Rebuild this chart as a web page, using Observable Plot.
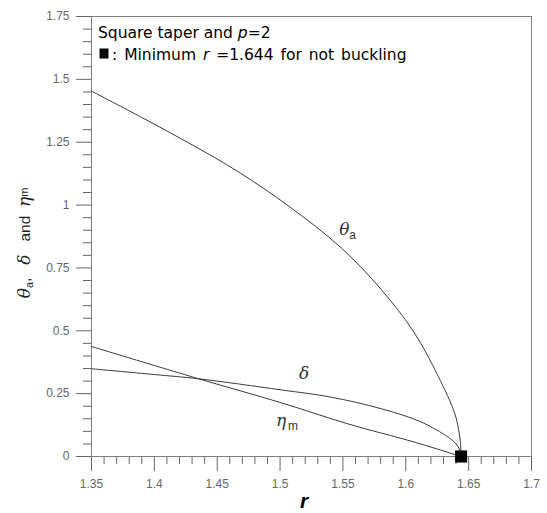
<!DOCTYPE html>
<html><head><meta charset="utf-8">
<script src="https://cdn.jsdelivr.net/npm/d3@7"></script>
<script src="https://cdn.jsdelivr.net/npm/@observablehq/plot@0.6"></script>
<style>
html,body{margin:0;padding:0;background:#fff;}
#chart{width:547px;height:513px;}
</style></head><body><div id="chart"></div>
<script>
// theta_a curve
const rTheta = [1.35, 1.3875, 1.4274, 1.4672, 1.5071, 1.5486, 1.5805, 1.6068, 1.6259, 1.6387, 1.6420, 1.6435, 1.644];
const theta  = [1.453, 1.355, 1.247, 1.131, 0.995, 0.830, 0.664, 0.492, 0.318, 0.175, 0.108, 0.055, 0];
// delta curve
const rDelta = [1.35, 1.40, 1.4353, 1.5007, 1.5406, 1.5805, 1.6124, 1.6337, 1.6400, 1.6430, 1.644];
const delta  = [0.349, 0.326, 0.309, 0.265, 0.236, 0.190, 0.137, 0.077, 0.050, 0.025, 0];
// eta_m curve
const rEta = [1.35, 1.4353, 1.5007, 1.5539, 1.607, 1.644];
const eta  = [0.4376, 0.309, 0.214, 0.130, 0.057, 0];
// minimum r
const rMin = [1.644];
const vMin = [0];
// ticks
const xTicks = [1.35, 1.4, 1.45, 1.5, 1.55, 1.6, 1.65, 1.7];
const xTickLabels = ["1.35", "1.4", "1.45", "1.5", "1.55", "1.6", "1.65", "1.7"];
const yTicks = [0, 0.25, 0.5, 0.75, 1, 1.25, 1.5, 1.75];
const yTickLabels = ["0", "0.25", "0.5", "0.75", "1", "1.25", "1.5", "1.75"];
// curve labels
const curveLabels = ["θ", "δ", "η"];
const curveLabelX = [1.547, 1.515, 1.4967];
const curveLabelY = [0.879, 0.310, 0.123];
const subLabels = ["a", "m"];
const subLabelX = [1.555, 1.5063];
const subLabelY = [0.867, 0.107];

const xMinor = d3.range(0, 36).map(i => +(1.35 + i * 0.01).toFixed(2)).filter(v => !xTicks.some(t => Math.abs(t - v) < 1e-9));
const yMinor = d3.range(0, 36).map(i => +(i * 0.05).toFixed(2)).filter(v => !yTicks.some(t => Math.abs(t - v) < 1e-9));

const toRows = (xs, ys) => xs.map((x, i) => ({x, y: ys[i]}));
const gray = "#666";
const lineColor = "#3a3a3a";

const plot = Plot.plot({
  width: 547,
  height: 513,
  marginLeft: 91,
  marginRight: 16,
  marginTop: 16,
  marginBottom: 57,
  style: {background: "#fff", fontFamily: "'Liberation Sans', Arial, sans-serif"},
  x: {domain: [1.35, 1.7]},
  y: {domain: [0, 1.75]},
  marks: [
    Plot.axisX({ticks: xMinor, tickSize: 8, tickFormat: () => "", label: null, color: gray}),
    Plot.axisY({ticks: yMinor, tickSize: 8, tickFormat: () => "", label: null, color: gray}),
    Plot.axisX({ticks: xTicks, tickSize: 15, tickPadding: 8, tickFormat: d => xTickLabels[xTicks.findIndex(t => Math.abs(t - d) < 1e-9)], label: null, fontSize: 12, color: gray}),
    Plot.axisY({ticks: yTicks, tickSize: 15, tickPadding: 7, tickFormat: d => yTickLabels[yTicks.findIndex(t => Math.abs(t - d) < 1e-9)], label: null, fontSize: 12, color: gray}),
    Plot.frame({stroke: "#808080", strokeWidth: 1}),
    Plot.line(toRows(rTheta, theta), {x: "x", y: "y", stroke: lineColor, strokeWidth: 1, curve: "catmull-rom"}),
    Plot.line(toRows(rDelta, delta), {x: "x", y: "y", stroke: lineColor, strokeWidth: 1, curve: "catmull-rom"}),
    Plot.line(toRows(rEta, eta), {x: "x", y: "y", stroke: lineColor, strokeWidth: 1, curve: "catmull-rom"}),
    Plot.dot(toRows(rMin, vMin), {x: "x", y: "y", symbol: "square", r: 6.8, fill: "#000", stroke: "none"}),
    Plot.text(curveLabels.map((t, i) => ({t, x: curveLabelX[i], y: curveLabelY[i]})), {x: "x", y: "y", text: "t", textAnchor: "start", lineAnchor: "bottom", fontSize: 17, fontStyle: "italic", fontFamily: "'DejaVu Serif', serif", fill: "#333"}),
    Plot.text(subLabels.map((t, i) => ({t, x: subLabelX[i], y: subLabelY[i]})), {x: "x", y: "y", text: "t", textAnchor: "start", lineAnchor: "bottom", fontSize: 12, fontFamily: "'Liberation Sans', Arial, sans-serif", fill: "#333"})
  ]
});

const svg = d3.select(plot);
// x-axis label
svg.append("text").attr("x", 304).attr("y", 508).attr("text-anchor", "middle")
  .style("font-family", "'Liberation Sans', Arial, sans-serif").style("font-size", "21px")
  .style("font-weight", "bold").style("font-style", "italic").attr("fill", "#000").text("r");
// y-axis label
const yl = svg.append("text").attr("transform", "translate(30,243) rotate(-90)").attr("text-anchor", "middle")
  .style("font-family", "'Liberation Sans', Arial, sans-serif").style("font-size", "15.5px").attr("fill", "#222");
yl.append("tspan").style("font-family", "'DejaVu Serif', serif").style("font-style", "italic").style("font-size", "17px").text("θ");
yl.append("tspan").attr("dy", 3).style("font-size", "11px").text("a");
yl.append("tspan").attr("dy", -3).text(",   ");
yl.append("tspan").style("font-family", "'DejaVu Serif', serif").style("font-style", "italic").style("font-size", "17px").text("δ");
yl.append("tspan").text("   and  ");
yl.append("tspan").style("font-family", "'DejaVu Serif', serif").style("font-style", "italic").style("font-size", "17px").text("η");
yl.append("tspan").attr("dy", -2).style("font-size", "11px").text("m");
// legend
const lg = svg.append("g").attr("text-anchor", "start").style("font-family", "'DejaVu Sans', sans-serif").style("font-size", "15.5px").attr("fill", "#000");
const l1 = lg.append("text").attr("text-anchor", "start").attr("x", 98).attr("y", 37.5);
l1.append("tspan").text("Square taper and ");
l1.append("tspan").style("font-style", "italic").text("p");
l1.append("tspan").text("=2");
lg.append("rect").attr("x", 99.5).attr("y", 48.5).attr("width", 9).attr("height", 10).attr("fill", "#000");
const l2 = lg.append("text").attr("text-anchor", "start").attr("x", 112).attr("y", 59.5).style("word-spacing", "2px");
l2.append("tspan").text(": Minimum ");
l2.append("tspan").style("font-style", "italic").text("r");
l2.append("tspan").text(" =1.644 for not buckling");

document.getElementById("chart").appendChild(plot);
</script>
</body></html>
